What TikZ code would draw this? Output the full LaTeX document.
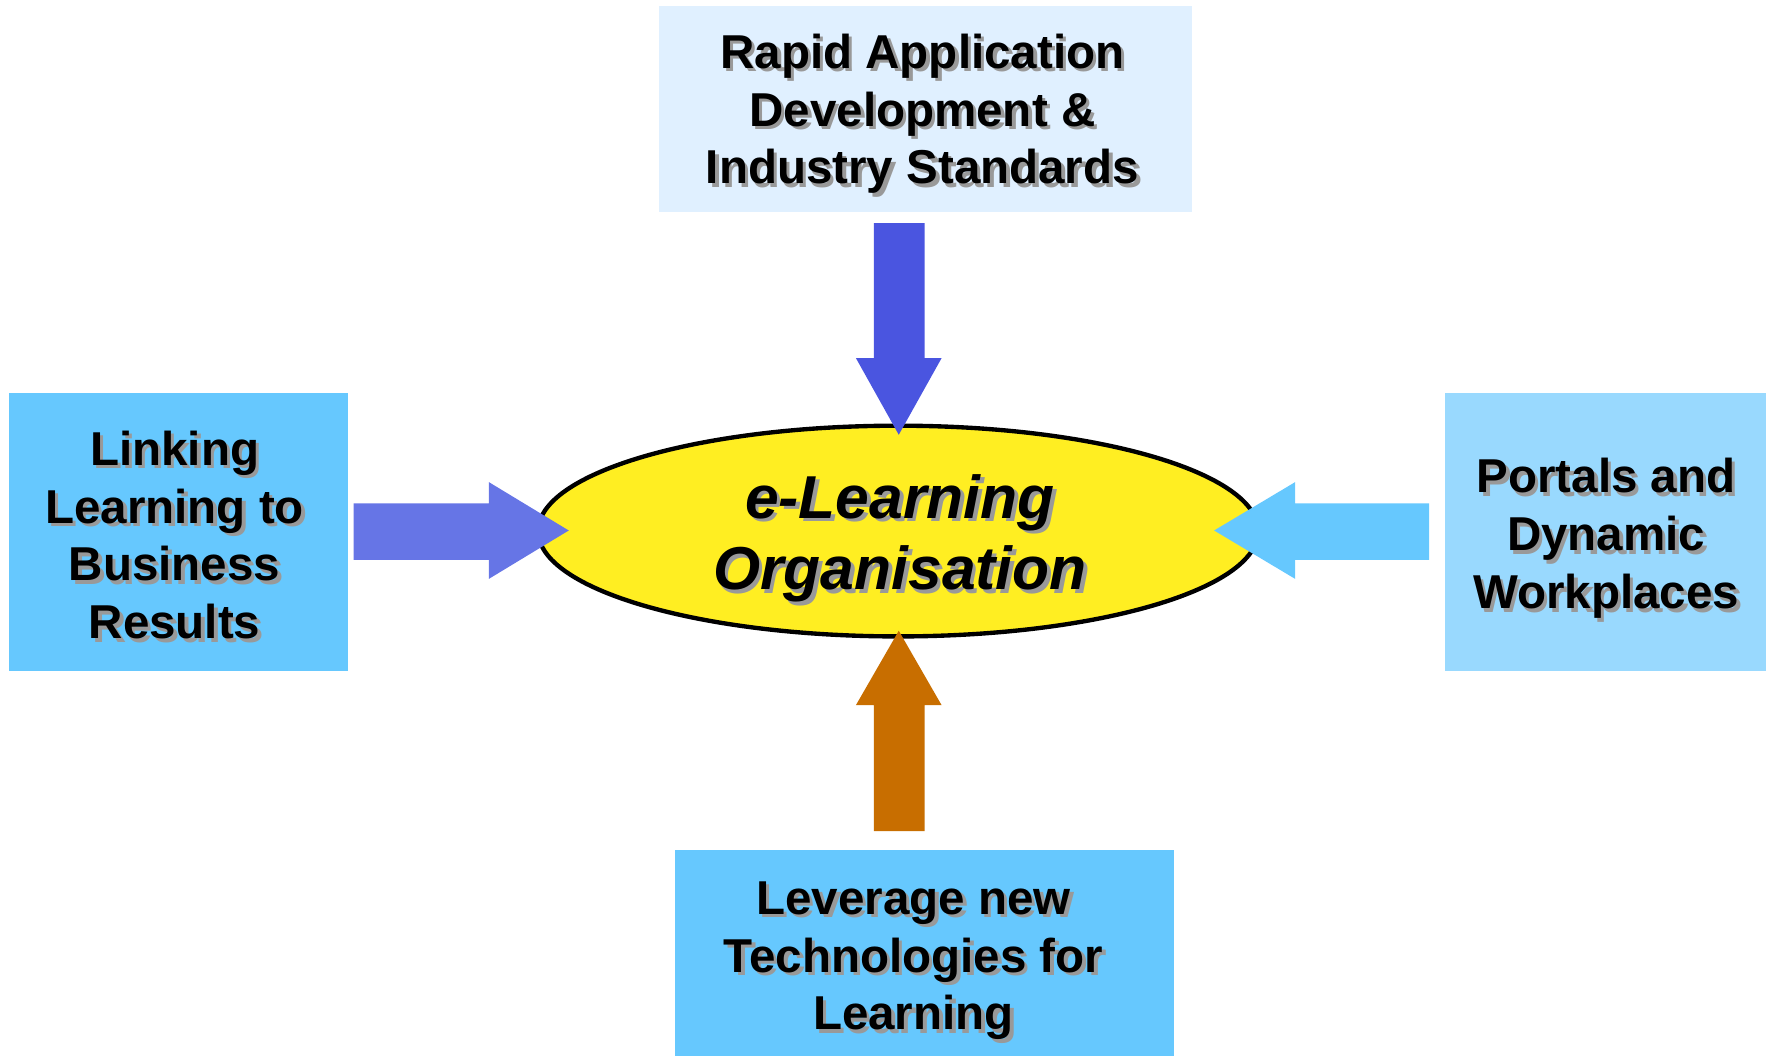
\documentclass[tikz,border=0pt]{standalone}
\usepackage{fontspec}
\setmainfont{Liberation Sans}

\definecolor{palebox}{HTML}{E0F0FF}
\definecolor{skybox}{HTML}{66C8FE}
\definecolor{lightbox}{HTML}{99D9FE}
\definecolor{eyellow}{HTML}{FFEE22}
\definecolor{topblue}{HTML}{4A55E0}
\definecolor{leftblue}{HTML}{6675E6}
\definecolor{rightblue}{HTML}{66C8FE}
\definecolor{bottomorange}{HTML}{C86E00}
\definecolor{shadowgray}{HTML}{999999}

\tikzset{every path/.style={line width=1.1 pt}}
\tikzset{boxtext/.style={align=center,inner sep=0pt,font=\fontsize{12}{14.6}\selectfont\bfseries},
         ovaltext/.style={align=center,inner sep=0pt,font=\fontsize{15.3}{18}\selectfont\bfseries\itshape}}

\newcommand{\shadowlabel}[4]{%
\node[#3,text=shadowgray,xshift=0.9pt,yshift=-0.9pt] (#1s) at #2 {#4};
\node[#3] (#1) at #2 {#4};}

\begin{document}
\begin{tikzpicture}[x=0.01cm,y=-0.01cm]
\useasboundingbox (0,0) rectangle (1568,938);
\fill[palebox] (585,5) rectangle (1058,188);
\fill[skybox] (8,349) rectangle (309,596);
\fill[lightbox] (1283,349) rectangle (1568,596);
\fill[skybox] (599,755) rectangle (1042,938);
\draw[fill=eyellow] (797.5,471.5) ellipse [x radius=3.195cm, y radius=0.935cm];
\fill[topblue] (776,198) -- (821,198) -- (821,318) -- (836,318) -- (798,386) -- (760,318) -- (776,318) -- cycle;
\fill[leftblue] (314,447) -- (434,447) -- (434,428) -- (505,471) -- (434,514) -- (434,497) -- (314,497) -- cycle;
\fill[rightblue] (1269,447) -- (1150,447) -- (1150,428) -- (1078,471) -- (1150,514) -- (1150,497) -- (1269,497) -- cycle;
\fill[bottomorange] (776,738) -- (821,738) -- (821,626) -- (836,626) -- (798,560) -- (760,626) -- (776,626) -- cycle;

\shadowlabel{rad}{(819,101)}{boxtext}{Rapid Application\\Development \&\\Industry Standards}
\shadowlabel{link}{(155,475)}{boxtext}{Linking\\Learning to\\Business\\Results}
\shadowlabel{portal}{(1426,478)}{boxtext}{Portals and\\Dynamic\\Workplaces}
\shadowlabel{lever}{(811,853)}{boxtext}{Leverage new\\Technologies for\\Learning}
\shadowlabel{elo}{(799,478)}{ovaltext}{e-Learning\\Organisation}

\end{tikzpicture}
\end{document}
